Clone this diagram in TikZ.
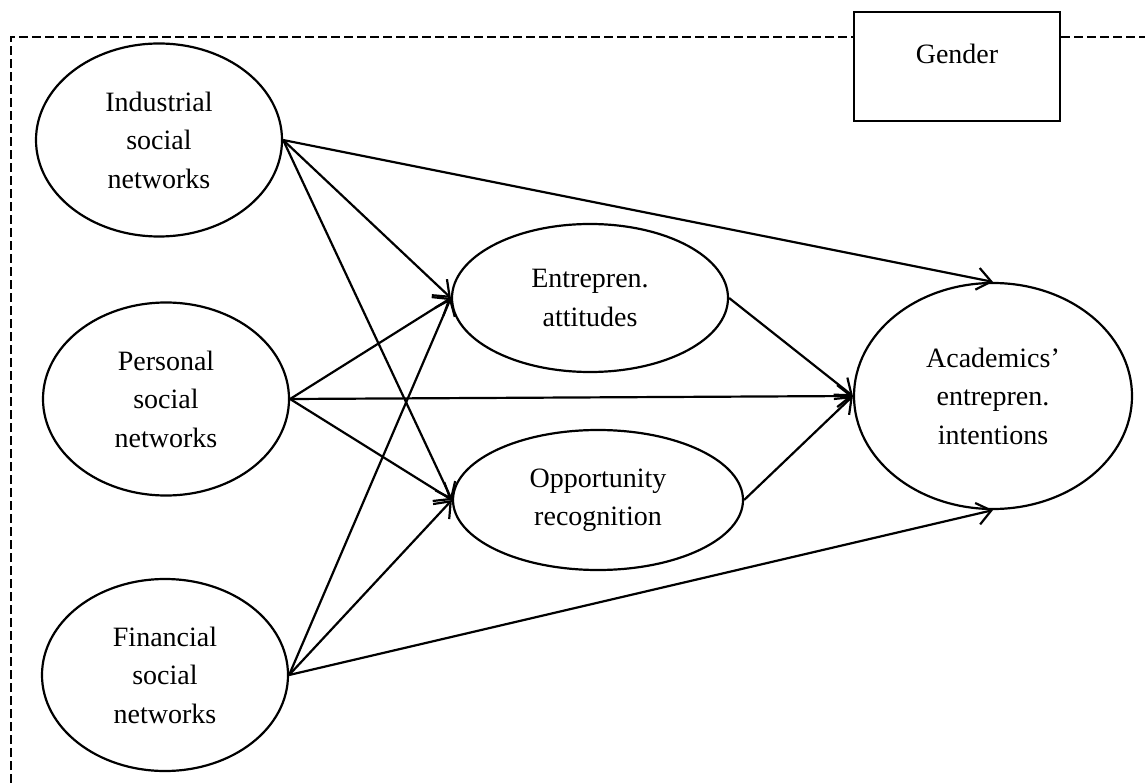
\documentclass[tikz,border=0pt]{standalone}
\usepackage{fontspec}
\setmainfont{Liberation Serif}
\usetikzlibrary{shapes.geometric,arrows.meta}
\begin{document}
\begin{tikzpicture}[x=1pt,y=-1pt,
  font=\fontsize{28}{38.5}\selectfont,
  oval/.style={draw, ellipse, line width=2.2pt, inner sep=0pt, align=center},
  path/.style={line width=2.2pt, -{Straight Barb[length=14pt,width=22pt,line width=2.2pt]}},
  frame/.style={line width=2pt, dash pattern=on 9pt off 4pt}]
\useasboundingbox (0,0) rectangle (1145,783);

% exogenous constructs
\node[oval, minimum width=246pt, minimum height=193pt] (ind) at (159,140) {Industrial\\social\\networks};
\node[oval, minimum width=246pt, minimum height=193pt] (per) at (166,399) {Personal\\social\\networks};
\node[oval, minimum width=246pt, minimum height=192pt] (fin) at (165,675) {Financial\\social\\networks};

% mediators
\node[oval, minimum width=276pt, minimum height=148pt] (att) at (590,298) {Entrepren.\\attitudes};
\node[oval, minimum width=290pt, minimum height=140pt] (opp) at (598,500) {Opportunity\\recognition};

% outcome
\node[oval, minimum width=278pt, minimum height=226pt] (int) at (993,396) {Academics'\\entrepren.\\intentions};

% moderator
\node[draw, line width=2.2pt, inner sep=0pt, minimum width=206pt,
      text height=51pt, text depth=58pt, anchor=north] (gender) at (957,11) {Gender};

% dashed moderation frame
\coordinate (fb) at (11,783);
\coordinate (fc) at (11,37);
\coordinate (fe) at (1145,37);
\draw[frame] (fb) -- (fc) -- (fc -| gender.west);
\draw[frame] (fc -| gender.east) -- (fe);

% paths
\draw[path] (ind.east) -- (int.north);
\draw[path] (ind.east) -- (att.west);
\draw[path] (ind.east) -- (opp.west);
\draw[path] (per.east) -- (att.west);
\draw[path] (per.east) -- (int.west);
\draw[path] (per.east) -- (opp.west);
\draw[path] (fin.east) -- (att.west);
\draw[path] (fin.east) -- (opp.west);
\draw[path] (fin.east) -- (int.south);
\draw[path] (att.east) -- (int.west);
\draw[path] (opp.east) -- (int.west);
\end{tikzpicture}
\end{document}
